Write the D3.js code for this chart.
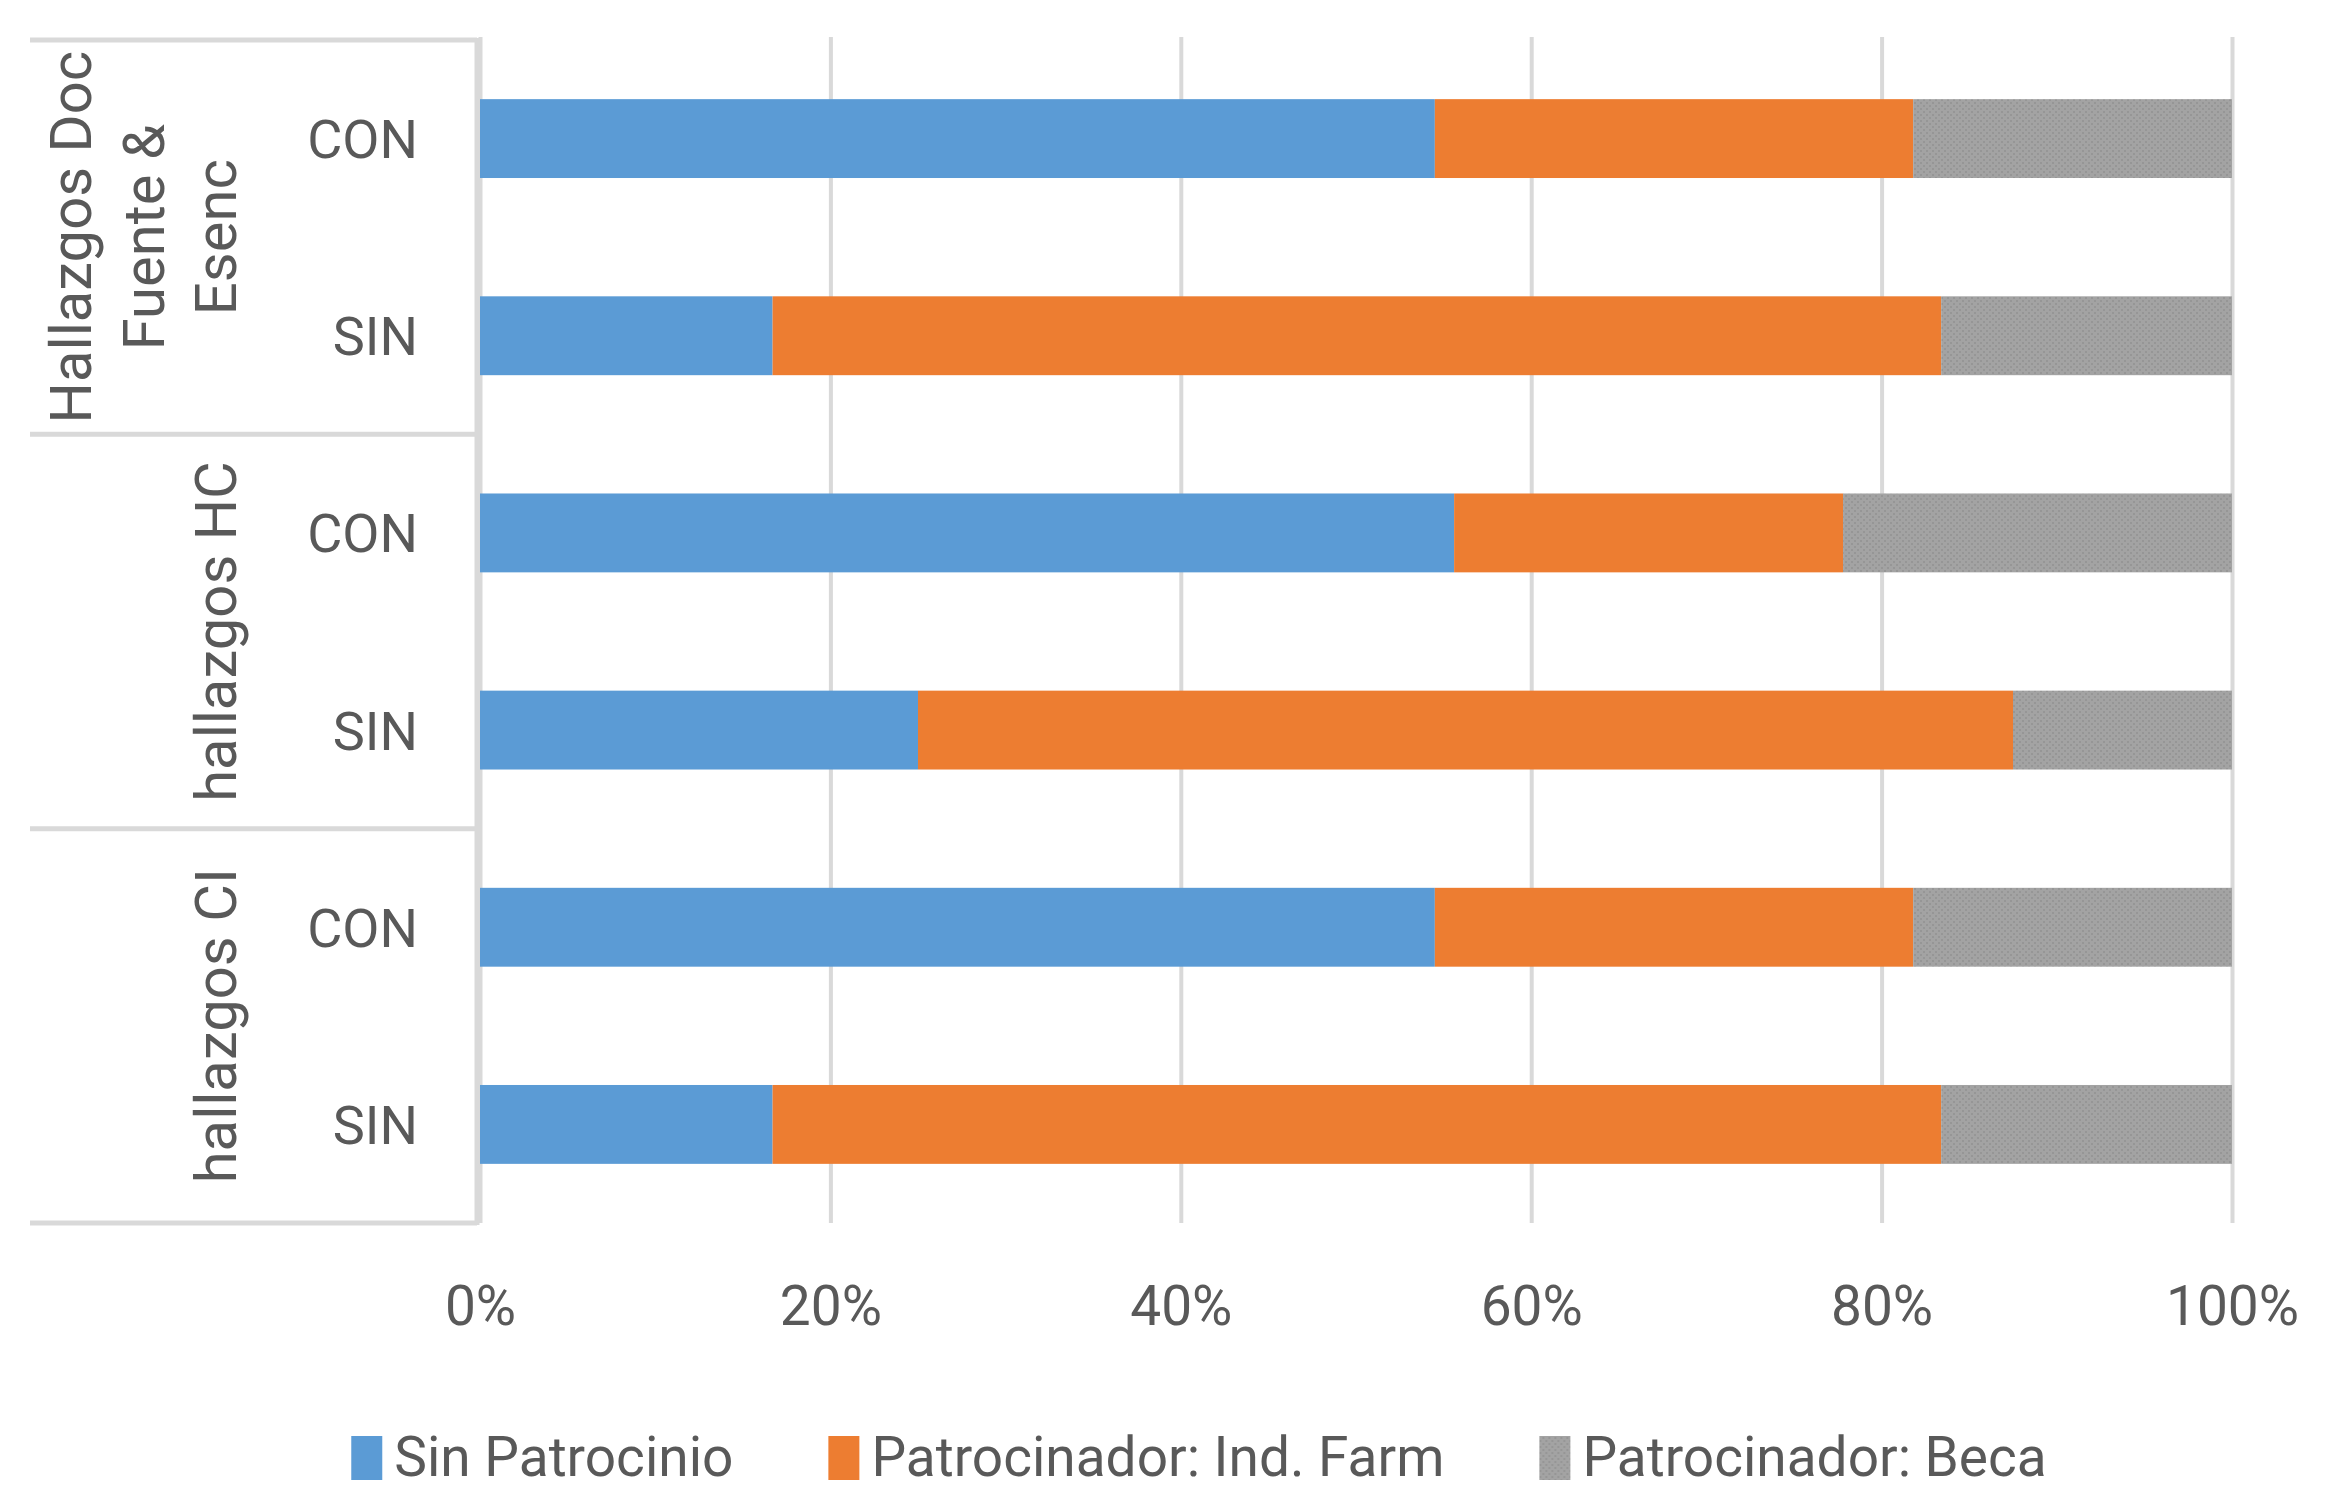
<!DOCTYPE html>
<html>
<head>
<meta charset="utf-8">
<script src="https://cdn.jsdelivr.net/npm/d3@7"></script>
<style>
  body { margin: 0; background: #fff; }
  svg text { font-family: Roboto, "Noto Sans", sans-serif; fill: #595959; }
</style>
</head>
<body>
<svg id="chart" width="2343" height="1495"></svg>
<script>
// --- data (percent of each row) ---
const groups = ["Hallazgos Doc Fuente & Esenc", "hallazgos HC", "hallazgos CI"];
const groupLines = [["Hallazgos Doc", "Fuente &", "Esenc"], ["hallazgos HC"], ["hallazgos CI"]];
const subRows = ["CON", "SIN"];
const seriesNames = ["Sin Patrocinio", "Patrocinador: Ind. Farm", "Patrocinador: Beca"];
const sinPatrocinio = [54.5, 16.7, 55.6, 25.0, 54.5, 16.7];
const indFarm       = [27.3, 66.7, 22.2, 62.5, 27.3, 66.7];
const beca          = [18.2, 16.6, 22.2, 12.5, 18.2, 16.6];
const tickValues = [0, 0.2, 0.4, 0.6, 0.8, 1];

// build rows (top to bottom)
const rows = [];
groups.forEach((g, gi) => {
    subRows.forEach((s, si) => {
        const i = gi * subRows.length + si;
        rows.push({
            key: g + "|" + s, group: g, sub: s,
            [seriesNames[0]]: sinPatrocinio[i],
            [seriesNames[1]]: indFarm[i],
            [seriesNames[2]]: beca[i]
        });
    });
});

const svg = d3.select("#chart");
const plotLeft = 480, plotRight = 2232, plotTop = 40, plotBottom = 1223;
const boxLeft = 30;

const defs = svg.append("defs");
const pat = defs.append("pattern")
    .attr("id", "becaPat")
    .attr("width", 6).attr("height", 6)
    .attr("patternUnits", "userSpaceOnUse");
pat.append("rect").attr("width", 6).attr("height", 6).attr("fill", "#a3a3a3");
pat.append("rect").attr("x", 0).attr("y", 0).attr("width", 2).attr("height", 2).attr("fill", "#969696");
pat.append("rect").attr("x", 3).attr("y", 3).attr("width", 2).attr("height", 2).attr("fill", "#969696");

const colors = d3.scaleOrdinal()
    .domain(seriesNames)
    .range(["#5b9bd5", "#ed7d31", "url(#becaPat)"]);

const x = d3.scaleLinear().domain([0, 1]).range([plotLeft, plotRight]);
const y = d3.scaleBand()
    .domain(rows.map(d => d.key))
    .range([plotTop, plotBottom])
    .paddingInner(0.6)
    .paddingOuter(0.3);

const stacked = d3.stack()
    .keys(seriesNames)
    .offset(d3.stackOffsetExpand)(rows);

// gridlines
svg.append("g")
    .attr("class", "grid")
    .attr("transform", `translate(0,${plotBottom})`)
    .call(d3.axisBottom(x).tickValues(tickValues).tickSize(-(plotBottom - plotTop) - 3).tickFormat(""))
    .call(g => g.select(".domain").remove())
    .call(g => g.selectAll("line").attr("stroke", "#d9d9d9").attr("stroke-width", 4));

// bars
svg.append("g")
    .selectAll("g")
    .data(stacked)
    .join("g")
    .attr("fill", d => colors(d.key))
    .selectAll("rect")
    .data(d => d)
    .join("rect")
    .attr("x", d => x(d[0]))
    .attr("width", d => x(d[1]) - x(d[0]))
    .attr("y", d => y(d.data.key))
    .attr("height", y.bandwidth());

// category box: axis line and group separators
const boxColor = "#d9d9d9";
svg.append("line")
    .attr("x1", plotLeft - 3).attr("x2", plotLeft - 3)
    .attr("y1", plotTop - 2).attr("y2", plotBottom + 2)
    .attr("stroke", boxColor).attr("stroke-width", 5);

const groupEdges = [plotTop];
groups.forEach((g, gi) => groupEdges.push(y(rows[(gi + 1) * subRows.length - 1].key) + y.bandwidth() + y.step() * 0.3));
svg.append("g")
    .selectAll("line")
    .data(groupEdges)
    .join("line")
    .attr("x1", boxLeft).attr("x2", plotLeft - 3)
    .attr("y1", d => d).attr("y2", d => d)
    .attr("stroke", boxColor).attr("stroke-width", 5);

// sub-row labels (CON / SIN)
svg.append("g")
    .selectAll("text")
    .data(rows)
    .join("text")
    .attr("x", 418)
    .attr("y", d => y(d.key) + y.bandwidth() / 2)
    .attr("dy", "0.36em")
    .attr("text-anchor", "end")
    .attr("font-size", 54)
    .text(d => d.sub);

// group labels, rotated
const lineGap = 72.5, baseX = 236;
groups.forEach((g, gi) => {
    const cy = (groupEdges[gi] + groupEdges[gi + 1]) / 2;
    const lines = groupLines[gi];
    lines.forEach((ln, li) => {
        const bx = baseX - (lines.length - 1 - li) * lineGap;
        svg.append("text")
            .attr("transform", `translate(${bx},${cy}) rotate(-90)`)
            .attr("text-anchor", "middle")
            .attr("font-size", 58)
            .text(ln);
    });
});

// x axis tick labels
svg.append("g")
    .attr("class", "x-axis")
    .attr("transform", `translate(0,${plotBottom})`)
    .call(d3.axisBottom(x).tickValues(tickValues).tickSize(0).tickPadding(0).tickFormat(d3.format(".0%")))
    .call(g => g.select(".domain").remove())
    .call(g => g.selectAll("text")
        .attr("y", 102)
        .attr("dy", 0)
        .attr("font-size", 55)
        .attr("fill", "#595959"))
    .attr("font-family", null);

// legend
const legend = svg.append("g").attr("class", "legend");
const items = legend.selectAll("g")
    .data(seriesNames)
    .join("g");
items.append("rect")
    .attr("y", 1436)
    .attr("width", 31).attr("height", 44)
    .attr("fill", d => colors(d));
items.append("text")
    .attr("x", 43)
    .attr("y", 1476)
    .attr("font-size", 55)
    .text(d => d);

let cursor = 0;
const offsets = [];
items.each(function() {
    offsets.push(cursor);
    const w = d3.select(this).select("text").node().getComputedTextLength();
    cursor += 43 + w + 95;
});
const total = cursor - 95;
const startX = 1199 - total / 2;
items.attr("transform", (d, i) => `translate(${startX + offsets[i]},0)`);
</script>
</body>
</html>
